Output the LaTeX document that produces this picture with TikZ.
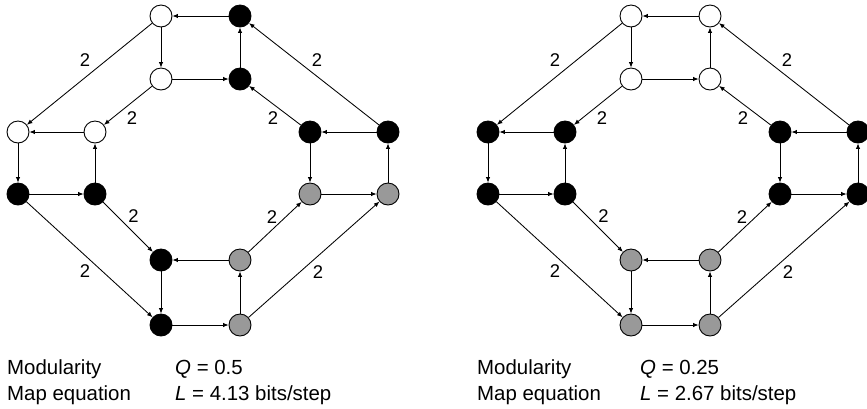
\documentclass[tikz,border=0pt]{standalone}
\usepackage{fontspec}
\setmainfont{Liberation Sans}
\usetikzlibrary{arrows.meta}

\definecolor{modgray}{gray}{0.6}

\tikzset{
  vertex/.style={circle, draw=black, line width=0.9pt, minimum size=22bp, inner sep=0pt},
  edge/.style={-{Latex[length=5.5bp,width=4.5bp]}, line width=0.85pt},
  weight/.style={font=\fontsize{18.5}{20}\selectfont, inner sep=0pt},
  caption/.style={font=\fontsize{20.5}{24}\selectfont, anchor=base west, inner sep=0pt}
}

\begin{document}
\begin{tikzpicture}[x=1bp,y=-1bp]
\useasboundingbox (0,0) rectangle (867,408);

% left graph
\foreach \n/\px/\py/\c in {t1/161/16/white, t2/240/16/black, t3/161/79/white, t4/240/79/black,
    l1/18/132/white, l2/95/132/white, l3/18/194/black, l4/95/194/black,
    r1/310/132/black, r2/388/132/black, r3/310/194/modgray, r4/388/194/modgray,
    b1/161/260/black, b2/240/260/modgray, b3/161/325/black, b4/240/325/modgray}
  \node[vertex, fill=\c] (A\n) at (\px,\py) {};

% right graph
\foreach \n/\px/\py/\c in {t1/161/16/white, t2/240/16/white, t3/161/79/white, t4/240/79/white,
    l1/18/132/black, l2/95/132/black, l3/18/194/black, l4/95/194/black,
    r1/310/132/black, r2/388/132/black, r3/310/194/black, r4/388/194/black,
    b1/161/260/modgray, b2/240/260/modgray, b3/161/325/modgray, b4/240/325/modgray}
  \node[vertex, fill=\c] (B\n) at (\px+470,\py) {};

% links, the same in both graphs
\foreach \g in {A,B} {
  \foreach \a/\b in {t2/t1, t1/t3, t3/t4, t4/t2, l2/l1, r2/r1,
      l1/l3, l3/l4, l4/l2, r1/r3, r3/r4, r4/r2,
      b2/b1, b1/b3, b3/b4, b4/b2}
    \draw[edge] (\g\a) -- (\g\b);
  \draw[edge] (\g t1) -- node[weight, xshift=-4.5bp, yshift=14bp] {2} (\g l1);
  \draw[edge] (\g t3) -- node[weight, xshift=4bp, yshift=-12.5bp] {2} (\g l2);
  \draw[edge] (\g r2) -- node[weight, xshift=3bp, yshift=14bp] {2} (\g t2);
  \draw[edge] (\g r1) -- node[weight, xshift=-2bp, yshift=-12.5bp] {2} (\g t4);
  \draw[edge] (\g l4) -- node[weight, xshift=5.5bp, yshift=10.5bp] {2} (\g b1);
  \draw[edge] (\g l3) -- node[weight, xshift=-4.5bp, yshift=-12bp] {2} (\g b3);
  \draw[edge] (\g b2) -- node[weight, xshift=-3bp, yshift=9.5bp] {2} (\g r3);
  \draw[edge] (\g b4) -- node[weight, xshift=4bp, yshift=-13bp] {2} (\g r4);
}

% scores
\node[caption] (modA) at (7,374) {Modularity};
\node[caption] (mapA) at (7,400) {Map equation};
\node[caption] (qA) at (175,374) {\textit{Q} = 0.5};
\node[caption] (lA) at (175,400) {\textit{L} = 4.13 bits/step};
\node[caption] (modB) at (477,374) {Modularity};
\node[caption] (mapB) at (477,400) {Map equation};
\node[caption] (qB) at (640,374) {\textit{Q} = 0.25};
\node[caption] (lB) at (640,400) {\textit{L} = 2.67 bits/step};
\end{tikzpicture}
\end{document}
